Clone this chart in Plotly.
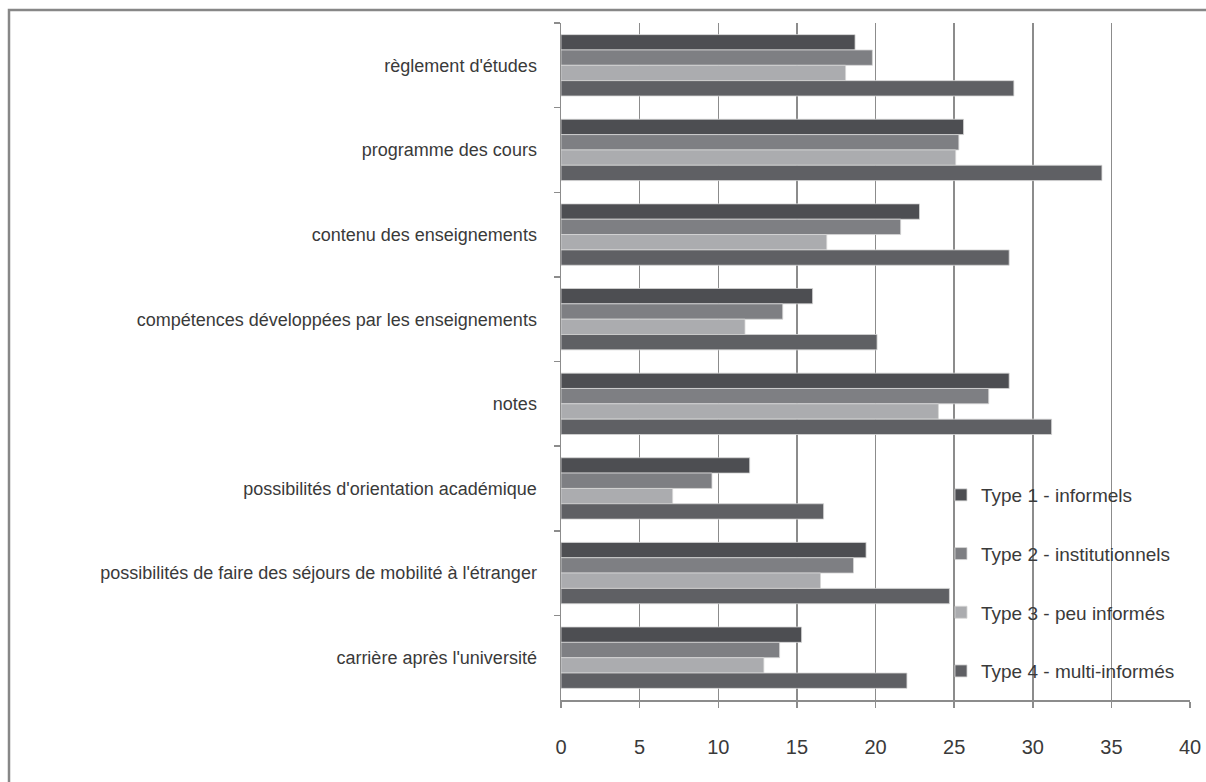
import plotly.graph_objects as go

categories = [
    "règlement d'études",
    "programme des cours",
    "contenu des enseignements",
    "compétences développées par les enseignements",
    "notes",
    "possibilités d'orientation académique",
    "possibilités de faire des séjours de mobilité à l'étranger",
    "carrière après l'université",
]

series_names = [
    "Type 1 - informels",
    "Type 2 - institutionnels",
    "Type 3 - peu informés",
    "Type 4 - multi-informés",
]

type1 = [18.7, 25.6, 22.8, 16.0, 28.5, 12.0, 19.4, 15.3]
type2 = [19.8, 25.3, 21.6, 14.1, 27.2, 9.6, 18.6, 13.9]
type3 = [18.1, 25.1, 16.9, 11.7, 24.0, 7.1, 16.5, 12.9]
type4 = [28.8, 34.4, 28.5, 20.1, 31.2, 16.7, 24.7, 22.0]

x_ticks = [0, 5, 10, 15, 20, 25, 30, 35, 40]

colors = ["#4d4e52", "#7e7f83", "#abacaf", "#5f6064"]
values = [type1, type2, type3, type4]

FONT = "Liberation Sans, Arial, sans-serif"

fig = go.Figure()
for name, vals, col in zip(series_names, values, colors):
    fig.add_trace(go.Bar(
        y=categories, x=vals, name=name, orientation="h",
        marker=dict(color=col, line=dict(color="#d6d6d6", width=0.8)),
        legendgroup=name,
    ))

W, H = 1206, 782
L, R, T, B = 561, 16, 23, 82
pw, ph = W - L - R, H - T - B

def px(xr):
    return (xr - L) / pw

def py(yr):
    return (H - B - yr) / ph

fig.update_layout(
    width=W, height=H,
    margin=dict(l=L, r=R, t=T, b=B, pad=0),
    paper_bgcolor="white", plot_bgcolor="white",
    barmode="group", bargap=0.275, bargroupgap=0,
    font=dict(family=FONT, color="#3a3a3a"),
    showlegend=True,
    legend=dict(
        x=px(941), y=py(476), xanchor="left", yanchor="top",
        bgcolor="rgba(0,0,0,0)", borderwidth=0,
        font=dict(size=19, family=FONT, color="#3a3a3a"),
        tracegroupgap=31, itemwidth=30,
    ),
    xaxis=dict(
        range=[0, 40], tickvals=x_ticks, ticktext=[str(v) for v in x_ticks],
        showgrid=True, gridcolor="#8c8c8c", gridwidth=1.5,
        showline=True, linecolor="#8c8c8c", linewidth=1.5,
        ticks="outside", ticklen=6, tickcolor="#8c8c8c", tickwidth=1.5,
        tickfont=dict(size=20, family=FONT, color="#3a3a3a"),
        ticklabelstandoff=22, ticklabeloverflow="allow",
        automargin=False, zeroline=False, fixedrange=True,
    ),
    yaxis=dict(
        type="category", categoryorder="array", categoryarray=categories,
        autorange="reversed", tickson="boundaries",
        showgrid=False, showline=True, linecolor="#8c8c8c", linewidth=1.5,
        ticks="outside", ticklen=6, tickcolor="#8c8c8c", tickwidth=1.5,
        tickfont=dict(size=18, family=FONT, color="#3a3a3a"),
        ticklabelstandoff=19, automargin=False, fixedrange=True,
    ),
    shapes=[dict(
        type="path", xref="paper", yref="paper",
        path=f"M {px(9)} {py(800)} L {px(9)} {py(10)} L {px(1215)} {py(10)}",
        line=dict(color="#878787", width=2.5),
    )],
)

fig.write_html(
    "out.html",
    config={"displayModeBar": False, "staticPlot": True},
    post_script="document.body.style.margin='0';document.body.style.overflow='hidden';",
)
